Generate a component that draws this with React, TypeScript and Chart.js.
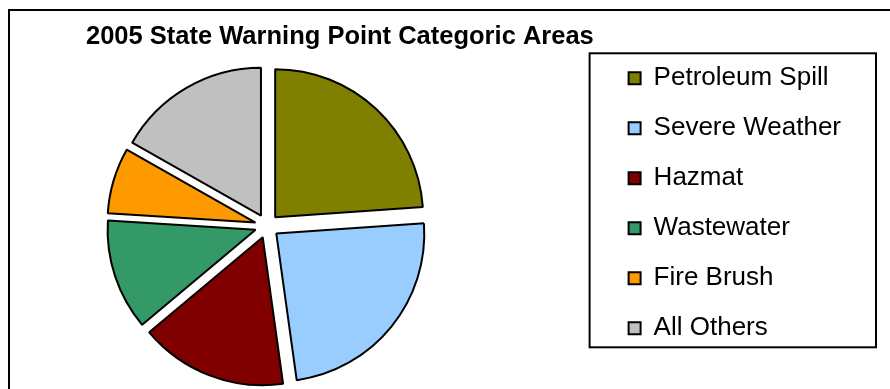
import React, { useEffect, useRef } from 'react';
import { Chart, registerables } from 'chart.js';

Chart.register(...registerables);

// ---- data ----
const TITLE = '2005 State Warning Point Categoric Areas';
const categories = ['Petroleum Spill', 'Severe Weather', 'Hazmat', 'Wastewater', 'Fire Brush', 'All Others'];
const shares = [23.9, 23.9, 16.1, 12.1, 7.2, 16.8];
const sliceColors = ['#808000', '#99CCFF', '#800000', '#339966', '#FF9900', '#C0C0C0'];

// ---- layout / style ----
const FONT = "'Liberation Sans', Arial, Helvetica, sans-serif";
const PIE_CENTER = { x: 267, y: 226 };
const PIE_RADIUS = 148;
const EXPLODE = 12;

const framePlugin = {
  id: 'frame',
  beforeDraw(chart: any) {
    const ctx = chart.ctx;
    ctx.save();
    ctx.fillStyle = '#ffffff';
    ctx.fillRect(0, 0, chart.width, chart.height);
    ctx.strokeStyle = '#000000';
    ctx.lineWidth = 2;
    // outer chart frame (continues past right/bottom edge)
    ctx.strokeRect(9, 10, chart.width + 50, chart.height + 50);
    // legend frame
    const lg = chart.legend;
    if (lg && lg.columnSizes && lg.columnSizes.length) {
      const top = lg.bottom - lg.columnSizes[0].height - 12;
      const bottom = lg.bottom - 18;
      const left = lg.left - 15;
      const right = lg.right + 25;
      ctx.strokeRect(left, top, right - left, bottom - top);
    }
    ctx.restore();
  },
};

const placePiePlugin = {
  id: 'placePie',
  afterLayout(chart: any) {
    const ca = chart.chartArea;
    const hw = (ca.right - ca.left) / 2;
    const hh = (ca.bottom - ca.top) / 2;
    chart.chartArea = {
      left: PIE_CENTER.x - hw,
      right: PIE_CENTER.x + hw,
      top: PIE_CENTER.y - hh,
      bottom: PIE_CENTER.y + hh,
      width: ca.width,
      height: ca.height,
    };
  },
};

const explodePlugin = {
  id: 'explode',
  afterDatasetsUpdate(chart: any) {
    const meta = chart.getDatasetMeta(0);
    meta.data.forEach((arc: any) => {
      const mid = (arc.startAngle + arc.endAngle) / 2;
      arc.x += Math.cos(mid) * EXPLODE;
      arc.y += Math.sin(mid) * EXPLODE;
    });
  },
};

export default function App() {
  const canvasRef = useRef<HTMLCanvasElement | null>(null);

  useEffect(() => {
    const canvas = canvasRef.current;
    if (!canvas) return;
    const chart = new Chart(canvas, {
      type: 'pie',
      data: {
        labels: categories,
        datasets: [
          {
            data: shares,
            backgroundColor: sliceColors,
            borderColor: '#000000',
            borderWidth: 2,
            radius: PIE_RADIUS,
          } as any,
        ],
      },
      options: {
        responsive: false,
        animation: false,
        devicePixelRatio: 1,
        events: [],
        color: '#000000',
        layout: { padding: { left: 86, right: 39, top: 0, bottom: 23.7 } },
        plugins: {
          title: {
            display: true,
            text: TITLE,
            align: 'start',
            color: '#000000',
            font: { family: FONT, size: 25.5, weight: 'bold' },
            padding: { top: 21.2, bottom: 30 },
          },
          legend: {
            display: true,
            position: 'right',
            align: 'end',
            labels: {
              color: '#000000',
              font: { family: FONT, size: 26 },
              boxWidth: 12,
              boxHeight: 12,
              padding: 24,
            },
          },
          tooltip: { enabled: false },
        },
      },
      plugins: [framePlugin, placePiePlugin, explodePlugin],
    });
    return () => chart.destroy();
  }, []);

  return (
    <div style={{ position: 'absolute', left: 0, top: 0, width: 890, height: 389 }}>
      <canvas ref={canvasRef} width={890} height={389} style={{ display: 'block' }} />
    </div>
  );
}
